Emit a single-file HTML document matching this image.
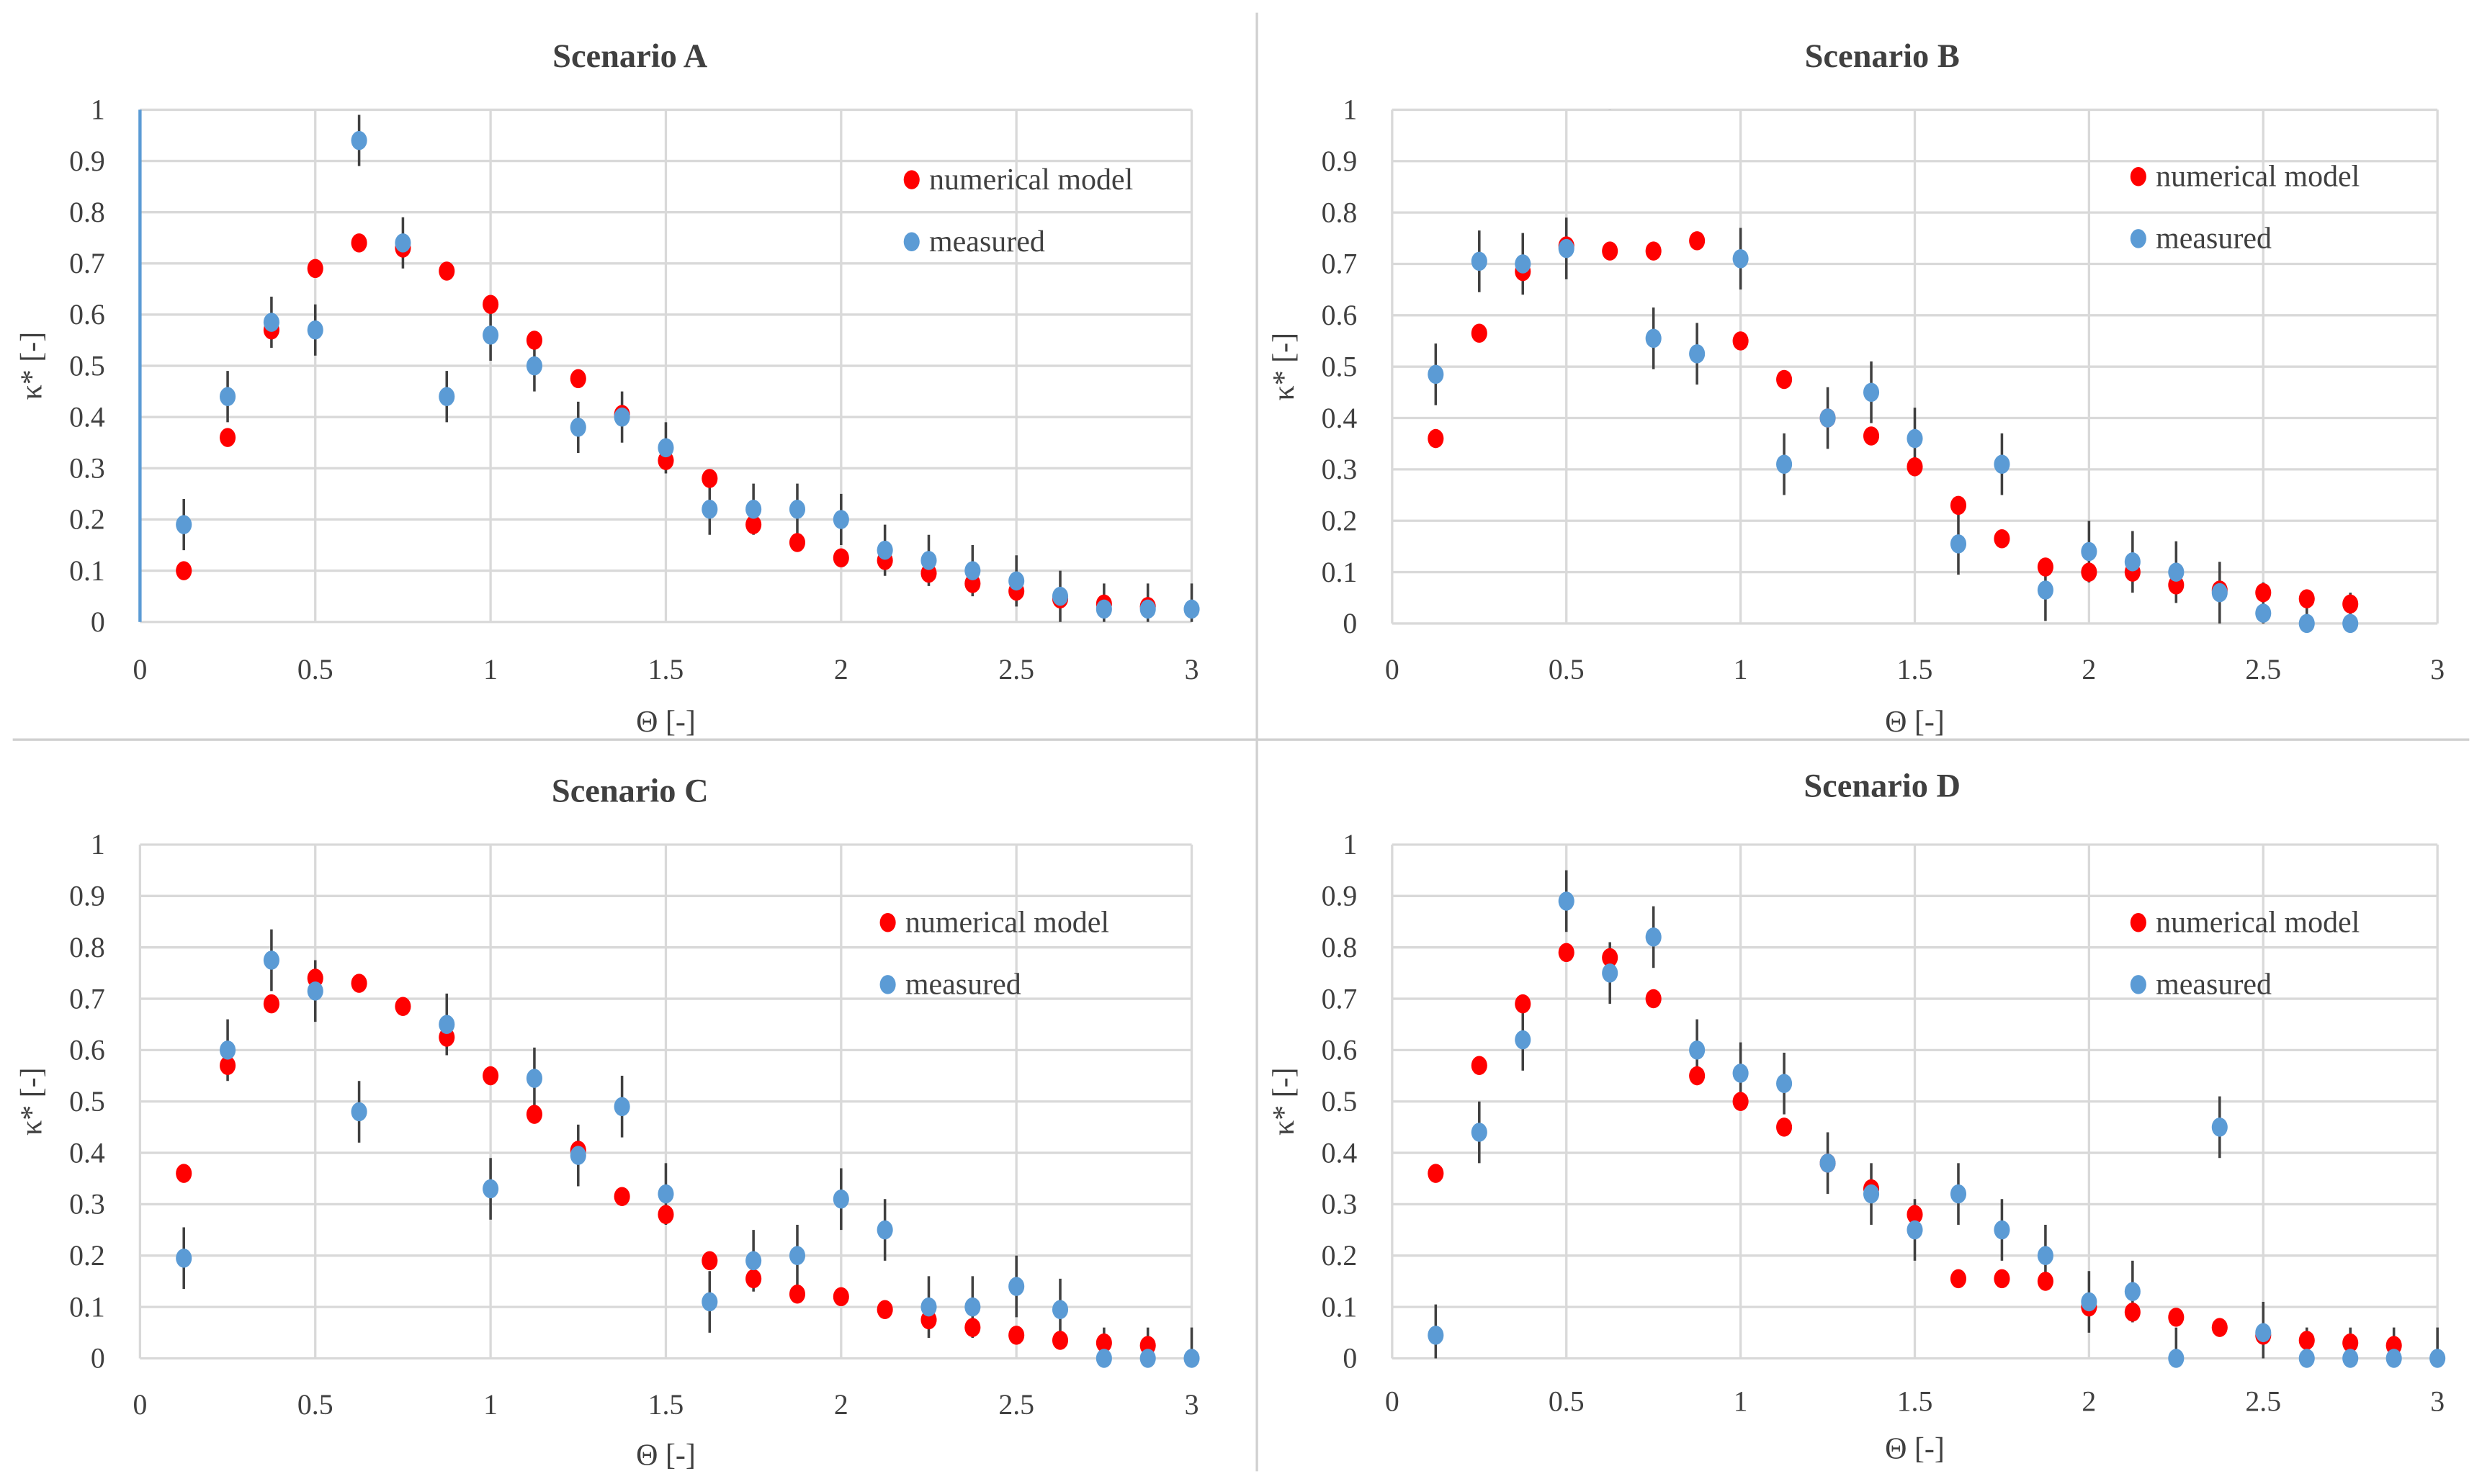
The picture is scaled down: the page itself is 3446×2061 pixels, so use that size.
<!DOCTYPE html>
<html><head><meta charset="utf-8"><style>
html,body{margin:0;padding:0;background:#fff}
svg{display:block}
text{font-family:"Liberation Serif",serif;fill:#404040}
</style></head><body>
<svg id="fig" width="3446" height="2061" viewBox="0 0 1560 933" preserveAspectRatio="none" xmlns="http://www.w3.org/2000/svg">
<rect width="1560" height="933" fill="#fff"/>
<line x1="790" y1="8" x2="790" y2="925" stroke="#d0d0d0" stroke-width="1.5"/>
<line x1="8" y1="465" x2="1552" y2="465" stroke="#d0d0d0" stroke-width="1.5"/>
</svg>
<script>
const xCatsStep = 0.125;
const numA = [0.1,0.36,0.57,0.69,0.74,0.73,0.685,0.62,0.55,0.475,0.405,0.315,0.28,0.19,0.155,0.125,0.12,0.095,0.075,0.06,0.045,0.035,0.03];
const measA = [0.19,0.44,0.585,0.57,0.94,0.74,0.44,0.56,0.5,0.38,0.4,0.34,0.22,0.22,0.22,0.2,0.14,0.12,0.1,0.08,0.05,0.025,0.025,0.025];
const numB = [0.36,0.565,0.685,0.735,0.725,0.725,0.745,0.55,0.475,0.4,0.365,0.305,0.23,0.165,0.11,0.1,0.1,0.075,0.065,0.06,0.048,0.038];
const measB = [0.485,0.705,0.7,0.73,1.06,0.555,0.525,0.71,0.31,0.4,0.45,0.36,0.155,0.31,0.065,0.14,0.12,0.1,0.06,0.02,0,0];
const numC = [0.36,0.57,0.69,0.74,0.73,0.685,0.625,0.55,0.475,0.405,0.315,0.28,0.19,0.155,0.125,0.12,0.095,0.075,0.06,0.045,0.035,0.03,0.025];
const measC = [0.195,0.6,0.775,0.715,0.48,null,0.65,0.33,0.545,0.395,0.49,0.32,0.11,0.19,0.2,0.31,0.25,0.1,0.1,0.14,0.095,0,0,0];
const numD = [0.36,0.57,0.69,0.79,0.78,0.70,0.55,0.50,0.45,0.38,0.33,0.28,0.155,0.155,0.15,0.10,0.09,0.08,0.06,0.045,0.035,0.03,0.025];
const measD = [0.045,0.44,0.62,0.89,0.75,0.82,0.6,0.555,0.535,0.38,0.32,0.25,0.32,0.25,0.2,0.11,0.13,0,0.45,0.05,0,0,0,0];
const errA = 0.05, errB = 0.06, errC = 0.06, errD = 0.06;
const xTicks = [0,0.5,1,1.5,2,2.5,3];
const xTickLabels = ["0","0.5","1","1.5","2","2.5","3"];
const yTicks = [0,0.1,0.2,0.3,0.4,0.5,0.6,0.7,0.8,0.9,1];
const yTickLabels = ["0","0.1","0.2","0.3","0.4","0.5","0.6","0.7","0.8","0.9","1"];

const NS="http://www.w3.org/2000/svg";
const svg=document.getElementById('fig');
function mk(tag,attrs,parent){const e=document.createElementNS(NS,tag);for(const k in attrs)e.setAttribute(k,attrs[k]);(parent||svg).appendChild(e);return e;}

const panels=[
 {id:'a',title:'Scenario A',num:numA,meas:measA,err:errA,x0:88,x1:749,y0:391,y1:69,tx:396,ty:42,xl:427,xt:460,lx:573,ly:113,blueAxis:true},
 {id:'b',title:'Scenario B',num:numB,meas:measB,err:errB,x0:875,x1:1532,y0:392,y1:69,tx:1183,ty:42,xl:427,xt:460,lx:1344,ly:111},
 {id:'c',title:'Scenario C',num:numC,meas:measC,err:errC,x0:88,x1:749,y0:854,y1:531,tx:396,ty:504,xl:889,xt:921,lx:558,ly:580},
 {id:'d',title:'Scenario D',num:numD,meas:measD,err:errD,x0:875,x1:1532,y0:854,y1:531,tx:1183,ty:501,xl:887,xt:917,lx:1344,ly:580}
];
panels.forEach(p=>{
 const g=mk('g',{});
 
 
 const X=v=>p.x0+(p.x1-p.x0)*v/3;
 const Y=v=>p.y0-(p.y0-p.y1)*v;
 const clipId='clip'+p.id;
 const cp=mk('clipPath',{id:clipId},g);mk('rect',{x:p.x0-10,y:p.y1,width:p.x1-p.x0+20,height:p.y0-p.y1+20},cp);
 const t=mk('text',{x:p.tx,y:p.ty,'text-anchor':'middle','font-size':21,'font-weight':'bold'},g);t.textContent=p.title;
 
 
 yTicks.forEach((v,i)=>{
  const l=mk('line',{x1:p.x0,x2:p.x1,y1:Y(v),y2:Y(v),stroke:'#d9d9d9','stroke-width':1.5},g);
  
  
  const tl=mk('text',{x:p.x0-22,y:Y(v)+6,'text-anchor':'end','font-size':18},g);tl.textContent=yTickLabels[i];
  
  
 });
 xTicks.forEach((v,i)=>{
  const l=mk('line',{x1:X(v),x2:X(v),y1:p.y1,y2:p.y0,stroke:'#d9d9d9','stroke-width':1.5},g);
  
  
  const tl=mk('text',{x:X(v),y:p.xl,'text-anchor':'middle','font-size':18},g);tl.textContent=xTickLabels[i];
  
  
 });
 if(p.blueAxis){const a=mk('line',{x1:p.x0,x2:p.x0,y1:p.y1,y2:p.y0,stroke:'#5b9bd5','stroke-width':2},g);
  
  }
 const xt=mk('text',{x:(p.x0+p.x1)/2,y:p.xt,'text-anchor':'middle','font-size':19},g);xt.textContent='Θ [-]';
 
 
 const yc=(p.y0+p.y1)/2;
 const yt=mk('text',{x:0,y:0,transform:`translate(${p.x0-62},${yc}) rotate(-90)`,'text-anchor':'middle','font-size':19},g);yt.textContent='κ* [-]';
 
 
 const mg=mk('g',{'clip-path':`url(#${clipId})`},g);
 p.meas.forEach((v,i)=>{ if(v===null)return; const x=X((i+1)*xCatsStep);
  const e=mk('line',{x1:x,x2:x,y1:Y(v+p.err),y2:Y(Math.max(0,v-p.err)),stroke:'#404040','stroke-width':1.6},mg);
  
  
 });
 p.num.forEach((v,i)=>{const c=mk('ellipse',{cx:X((i+1)*xCatsStep),cy:Y(v),rx:5,ry:6,fill:'#ff0000'},mg);
  
  });
 p.meas.forEach((v,i)=>{ if(v===null)return; const c=mk('ellipse',{cx:X((i+1)*xCatsStep),cy:Y(v),rx:5,ry:6,fill:'#5b9bd5'},mg);
  
  });
 const lg=mk('g',{},g);
 
 
 [['#ff0000','numerical model',0],['#5b9bd5','measured',39]].forEach(([col,lab,dy])=>{
  const e=mk('g',{},lg);
  
  
  mk('ellipse',{cx:p.lx,cy:p.ly+dy,rx:5,ry:6,fill:col},e);
  const tx=mk('text',{x:p.lx+11,y:p.ly+dy+6,'font-size':19},e);tx.textContent=lab;
 });
});
</script>
</body></html>
